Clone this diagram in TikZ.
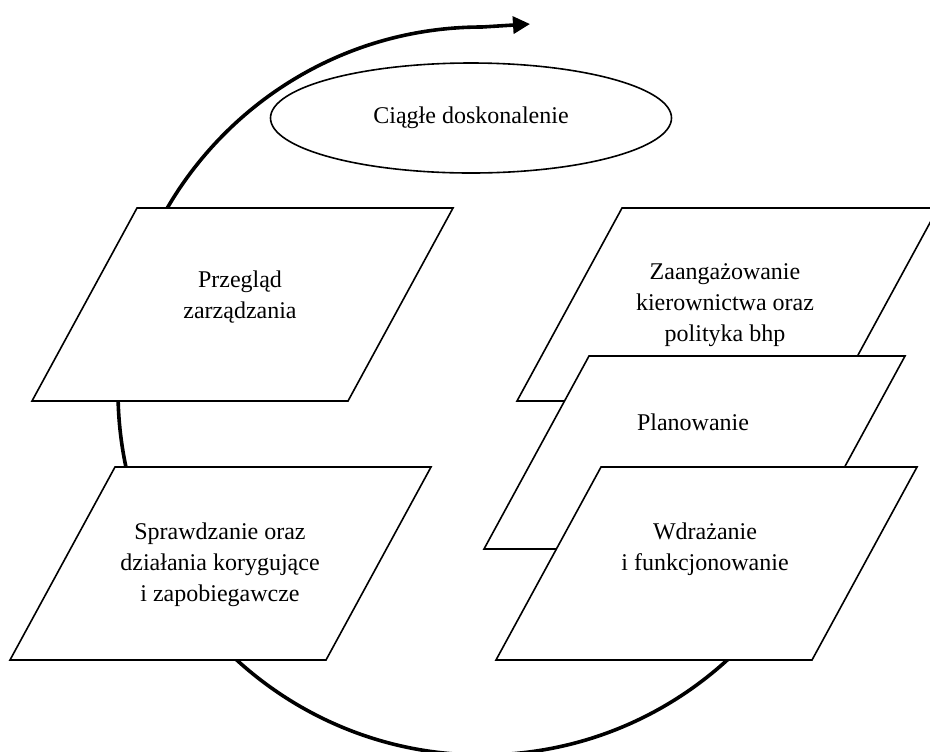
\documentclass[tikz,border=0pt]{standalone}
\usepackage{fontspec}
\setmainfont{Liberation Serif}
\usetikzlibrary{arrows.meta,shapes.geometric,positioning,calc}
\tikzset{%
  slantbox/.style={draw,fill=white,line width=0.8pt},
  boxtext/.style={align=center,font=\fontsize{12}{15.5}\selectfont},
  cycleline/.style={line width=1.8pt,-{Triangle[length=8.5pt,width=8.5pt]}}
}

\begin{document}
\begin{tikzpicture}[x=0.5pt,y=-0.5pt]
% geometry (pixel units, y downwards)
\def\bw{316}   % box width
\def\bh{193}   % box height
\def\bsl{105}  % slant of the sides

\useasboundingbox (0,0) rectangle (930,751);

% ===================== cycle arrow =====================
\coordinate (cyc) at (482,391);   % centre of the cycle
\coordinate (tip) at (530,24);    % arrow tip
\draw[cycleline] (cyc) ++(0:182pt) arc[start angle=0,end angle=-270,radius=182pt] -- (tip);

% ===================== ellipse =====================
\node[draw,ellipse,line width=0.8pt,minimum width=200.5pt,minimum height=55pt,boxtext]
  (ciagle) at (471,118) {Ciągłe doskonalenie};

% ===================== parallelogram macro =====================
% #1 x, #2 y (top-left corner)
\newcommand{\slantframe}[2]{
  \path[slantbox] (#1,#2) -- ++(\bw,0) -- ++(-\bsl,\bh) -- ++(-\bw,0) -- cycle;
}

% ---- left column ----
\slantframe{137}{208}   % Przeglad
\node[boxtext] (przeglad) at (240,297) {Przegląd\\zarządzania};
\slantframe{115}{467}   % Sprawdzanie
\node[boxtext] (sprawdzanie) at (220,565) {Sprawdzanie oraz\\działania korygujące\\i zapobiegawcze};

% ---- right stack ----
\slantframe{622}{208}   % Zaangazowanie
\node[boxtext] (zaang) at (725,305) {Zaangażowanie\\kierownictwa oraz\\polityka bhp};
\slantframe{589}{356}   % Planowanie
\node[boxtext] (plan) at (693,422) {Planowanie};
\slantframe{601}{467}   % Wdrazanie
\node[boxtext] (wdraz) at (705,549) {Wdrażanie\\i funkcjonowanie};

\end{tikzpicture}
\end{document}
